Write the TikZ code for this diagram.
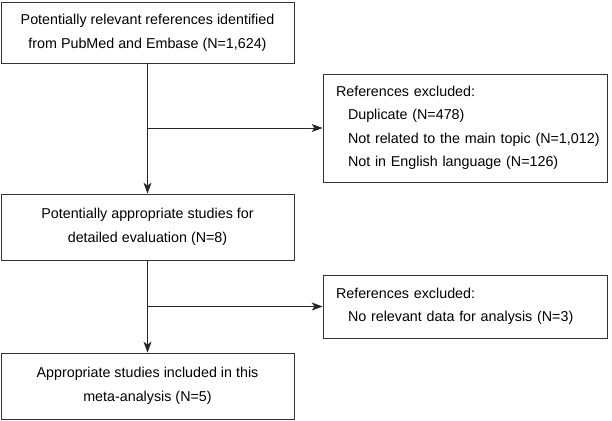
\documentclass[tikz,border=0pt]{standalone}
\usepackage{fontspec}
\setmainfont{Liberation Sans}
\usetikzlibrary{arrows.meta}
\begin{document}
\begin{tikzpicture}[x=1pt,y=-1pt,
  box/.style={draw=black!80,line width=0.8pt,rectangle,inner sep=0pt,font=\fontsize{14.3}{24}\selectfont,align=center},
  exbox/.style={draw=black!80,line width=0.8pt,rectangle,inner xsep=1pt,inner ysep=0pt,font=\fontsize{14.3}{23.5}\selectfont,align=left,text width=282pt},
  conn/.style={draw=black!85,line width=0.8pt},
  arr/.style={conn,-{Stealth[length=11pt,width=8pt,inset=3pt]}}]
\useasboundingbox (0,0) rectangle (612,420);
\node[box,minimum width=293pt,minimum height=61pt] (a) at (147.5,32.5) {Potentially relevant references identified\\from PubMed and Embase (N=1,624)};
\node[box,minimum width=293pt,minimum height=66pt] (b) at (147.5,227) {Potentially appropriate studies for\\detailed evaluation (N=8)};
\node[box,minimum width=293pt,minimum height=66pt] (c) at (147.5,386) {Appropriate studies included in this\\meta-analysis (N=5)};
\node[exbox,minimum width=284pt,minimum height=108pt] (e1) at (465,128) {\hspace*{12pt}References excluded:\\\hspace*{24pt}Duplicate (N=478)\\\hspace*{24pt}Not related to the main topic (N=1,012)\\\hspace*{24pt}Not in English language (N=126)};
\node[exbox,minimum width=284pt,minimum height=63pt] (e2) at (465,306.5) {\hspace*{12pt}References excluded:\\\hspace*{24pt}No relevant data for analysis (N=3)};
\coordinate (j1) at (a.south |- e1.west);
\coordinate (j2) at (b.south |- e2.west);
\draw[arr] (a.south) -- (b.north);
\draw[arr] (j1) -- (e1.west);
\draw[arr] (b.south) -- (c.north);
\draw[arr] (j2) -- (e2.west);
\end{tikzpicture}
\end{document}
